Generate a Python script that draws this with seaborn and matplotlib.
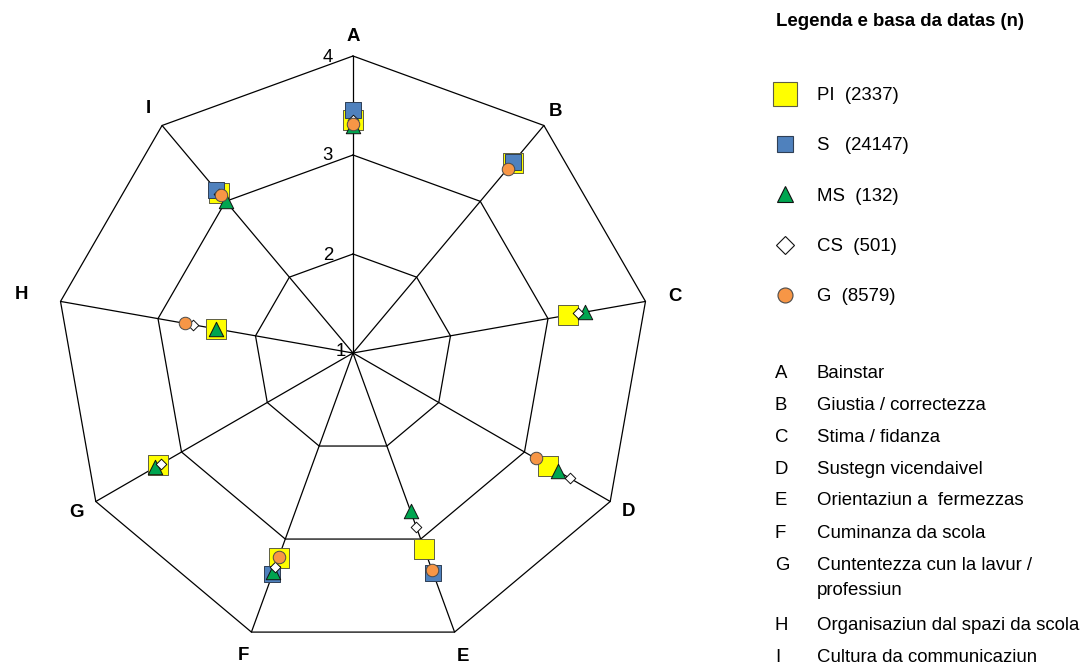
import numpy as np
import pandas as pd
import matplotlib
matplotlib.use("Agg")
import matplotlib.pyplot as plt
from matplotlib.lines import Line2D
import seaborn as sns

# ------------ DATA ------------
axis_letters = ["A", "B", "C", "D", "E", "F", "G", "H", "I"]
axis_names = [
    "Bainstar",
    "Giustia / correctezza",
    "Stima / fidanza",
    "Sustegn vicendaivel",
    "Orientaziun a  fermezzas",
    "Cuminanza da scola",
    "Cuntentezza cun la lavur /\nprofessiun",
    "Organisaziun dal spazi da scola",
    "Cultura da communicaziun",
]
series_names = ["PI", "S", "MS", "CS", "G"]
legend_labels = ["PI  (2337)", "S   (24147)", "MS  (132)", "CS  (501)", "G  (8579)"]
ring_ticks = [1, 2, 3, 4]

nan = np.nan
pi_vals = [3.35, 3.51, 3.21, 3.28, 3.11, 3.20, 3.27, 2.41, 3.11]
s_vals = [3.45, 3.52, nan, nan, 3.36, 3.38, nan, nan, 3.15]
ms_vals = [3.29, nan, 3.38, 3.39, 2.70, 3.35, 3.31, 2.41, 3.00]
cs_vals = [3.35, nan, 3.31, 3.53, 2.87, 3.30, 3.24, 2.64, 3.10]
g_vals = [3.31, 3.43, nan, 3.13, 3.33, 3.19, nan, 2.72, 3.08]

# ------------ STYLES ------------
# marker, face, edge, size in chart (pt), size in legend (pt)
STYLES = {
    "PI": ("s", "#FFFF00", "#5e5e45", 13.7, 16.6),
    "S": ("s", "#4F81BD", "#2f3f55", 11.3, 11.5),
    "MS": ("^", "#00A550", "#111111", 10.4, 12.2),
    "CS": ("D", "#FFFFFF", "#111111", 5.4, 8.7),
    "G": ("o", "#F79646", "#4a4a4a", 9.0, 10.8),
}
FS = 13.4
W, H = 1087, 669
label_r = [4.20, 4.18, 4.30, 4.21, 4.26, 4.25, 4.23, 4.40, 4.22]
list_y = [374.0, 405.6, 437.3, 469.0, 500.6, 534.0, 565.6, 625.6, 657.3]

sns.set_theme(style="white")
plt.rcParams["font.family"] = ["Liberation Sans", "DejaVu Sans"]
plt.rcParams["text.color"] = "black"

theta = np.deg2rad(np.arange(len(axis_letters)) * 360 / len(axis_letters))

rows = []
for name, vals in zip(series_names, [pi_vals, s_vals, ms_vals, cs_vals, g_vals]):
    for t, v in zip(theta, vals):
        rows.append({"series": name, "theta": t, "value": v})
df = pd.DataFrame(rows)

fig = plt.figure(figsize=(W / 100, H / 100), dpi=100)
ax = fig.add_axes([56 / W, 19 / H, 594 / W, 594 / H], projection="polar")
ax.set_theta_zero_location("N")
ax.set_theta_direction(-1)

# polygon grid + spokes
theta_closed = np.append(theta, theta[0])
for r in ring_ticks[1:]:
    ax.plot(theta_closed, np.full(theta_closed.size, r), color="black", lw=0.9,
            clip_on=False, zorder=1)
for t in theta:
    ax.plot([t, t], [ring_ticks[0], ring_ticks[-1]], color="black", lw=0.9,
            clip_on=False, zorder=1)

# markers, later series on top
for name in series_names:
    marker, face, edge, size, _ = STYLES[name]
    sub = df[df["series"] == name].dropna()
    sns.scatterplot(data=sub, x="theta", y="value", ax=ax, marker=marker, s=size ** 2,
                    color=face, edgecolor=edge, linewidth=0.7, zorder=3, legend=False,
                    clip_on=False)

ax.set_xlabel("")
ax.set_ylabel("")
ax.set_xticks([])
ax.set_yticks([])
ax.grid(False)
ax.spines["polar"].set_visible(False)
ax.set_rlim(ring_ticks[0], ring_ticks[-1])

for r in ring_ticks:
    off = (-7, 1) if r == ring_ticks[0] else (-20, -1)
    ax.annotate(str(r), xy=(0, r), xytext=off, textcoords="offset pixels",
                ha="right", va="center", fontsize=FS, annotation_clip=False)

for t, lab, rl in zip(theta, axis_letters, label_r):
    ax.text(t, rl, lab, ha="center", va="center", fontsize=FS, fontweight="bold")

# legend of series
fig.text(776 / W, 1 - 21.5 / H, "Legenda e basa da datas (n)", ha="left", va="center",
         fontsize=FS, fontweight="bold")
handles = []
for name in series_names:
    marker, face, edge, _, leg = STYLES[name]
    handles.append(Line2D([], [], linestyle="none", marker=marker, markersize=leg,
                          markerfacecolor=face, markeredgecolor=edge, markeredgewidth=0.8))
fig.legend(handles, legend_labels, loc="upper left", bbox_to_anchor=(770.6 / W, 1 - 87 / H),
           frameon=False, fontsize=FS, handlelength=1.6, handletextpad=0.89,
           labelspacing=1.79, borderpad=0, borderaxespad=0)

# list of dimensions
for lab, desc, y in zip(axis_letters, axis_names, list_y):
    fig.text(775 / W, 1 - y / H, lab, ha="left", va="center", fontsize=FS)
    for k, line in enumerate(desc.split("\n")):
        fig.text(817 / W, 1 - (y + 25 * k) / H, line, ha="left", va="center", fontsize=FS)

fig.savefig("out.png", dpi=100)
